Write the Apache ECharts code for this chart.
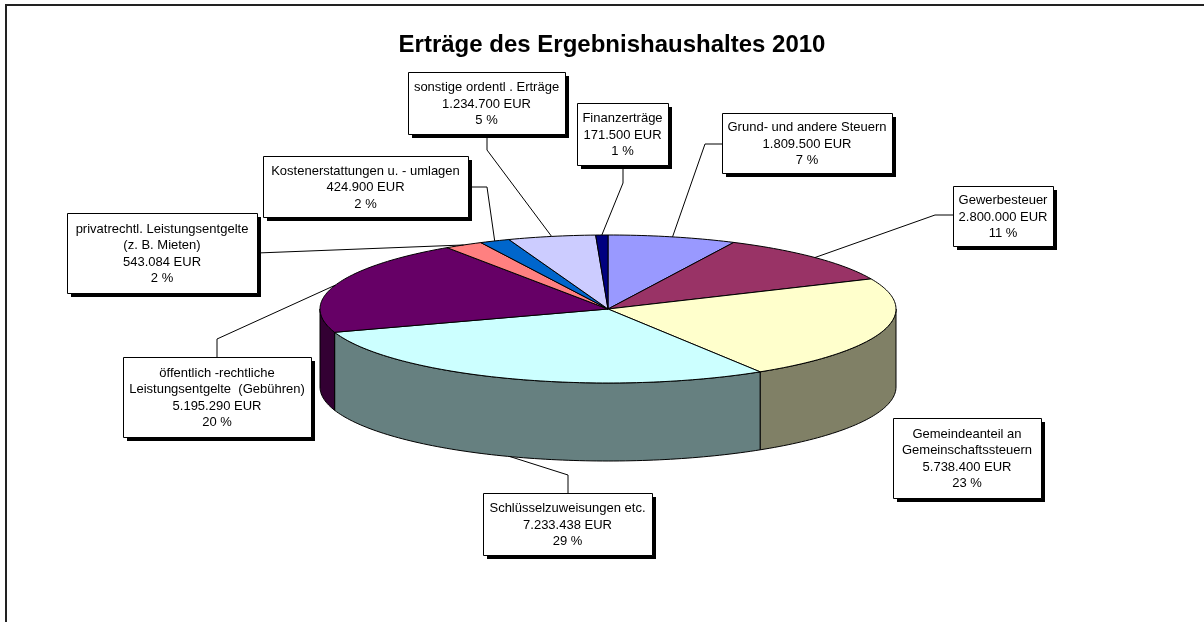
<!DOCTYPE html>
<html>
<head>
<meta charset="utf-8">
<script src="https://cdn.jsdelivr.net/npm/echarts@6/dist/echarts.min.js"></script>
<style>
html, body { margin: 0; padding: 0; background: #fff; }
#main { width: 1204px; height: 622px; }
</style>
</head>
<body>
<div id="main"></div>
<script>
// Werte (Reihenfolge im Uhrzeigersinn ab 12 Uhr)
var names = [
    'Grund- und andere Steuern',
    'Gewerbesteuer',
    'Gemeindeanteil an\nGemeinschaftssteuern',
    'Schlüsselzuweisungen etc.',
    'öffentlich -rechtliche\nLeistungsentgelte  (Gebühren)',
    'privatrechtl. Leistungsentgelte\n(z. B. Mieten)',
    'Kostenerstattungen u. - umlagen',
    'sonstige ordentl . Erträge',
    'Finanzerträge'
];
var values = [1809500, 2800000, 5738400, 7233438, 5195290, 543084, 424900, 1234700, 171500];
var percents = [7, 11, 23, 29, 20, 2, 2, 5, 1];

var topColors  = ['#9999ff', '#993366', '#ffffcc', '#ccffff', '#660066', '#ff8080', '#0066cc', '#ccccff', '#000080'];
var sideColors = ['#4d4d80', '#4d1a33', '#808066', '#668080', '#330033', '#804040', '#003366', '#666680', '#000040'];

// Beschriftungskästen [x, y, b, h] und Knickpunkte der Führungslinien
var boxes = [
    [722, 113, 170, 60],
    [953, 186, 100, 60],
    [893, 418, 148, 80],
    [483, 493, 169, 62],
    [123, 357, 188, 80],
    [67, 213, 190, 80],
    [263, 156, 205, 61],
    [408, 72, 157, 62],
    [577, 103, 91, 62]
];
var elbows = [
    [[722, 144], [705, 144]],
    [[953, 215], [935, 215]],
    null,
    [[568, 493], [568, 475]],
    [[217, 357], [217, 339]],
    [[257, 253]],
    [[468, 187], [487, 187]],
    [[487, 134], [487, 150]],
    [[623, 165], [623, 183]]
];

var cx = 608, cy = 309, rx = 288, ry = 74, depth = 78;

var total = 0;
var starts = [];
values.forEach(function (v) { starts.push(total); total += v; });

function rim(a, dy) {
    return [cx + rx * Math.sin(a), cy - ry * Math.cos(a) + (dy || 0)];
}
function arc(a0, a1, dy) {
    var pts = [];
    var n = Math.max(2, Math.ceil((a1 - a0) / 0.02));
    for (var k = 0; k <= n; k++) pts.push(rim(a0 + (a1 - a0) * k / n, dy));
    return pts;
}
function euro(v) {
    return String(v).replace(/\B(?=(\d{3})+(?!\d))/g, '.') + ' EUR';
}
function angles(api) {
    var s = api.value(1), v = api.value(0);
    return [s / total * 2 * Math.PI, (s + v) / total * 2 * Math.PI];
}

function renderSlice(params, api) {
    var i = api.value(2);
    var a = angles(api);
    var children = [];
    var w0 = Math.max(a[0], Math.PI / 2), w1 = Math.min(a[1], 1.5 * Math.PI);
    if (w1 > w0) {
        var wall = arc(w0, w1, 0).concat(arc(w0, w1, depth).reverse());
        children.push({
            type: 'polygon', shape: { points: wall },
            style: { fill: sideColors[i], stroke: '#000', lineWidth: 1 }
        });
    }
    children.push({
        type: 'polygon', shape: { points: [[cx, cy]].concat(arc(a[0], a[1], 0)) },
        style: { fill: topColors[i], stroke: '#000', lineWidth: 1 }
    });
    return { type: 'group', children: children };
}

function renderLabel(params, api) {
    var i = api.value(2);
    var a = angles(api);
    var mid = (a[0] + a[1]) / 2;
    var front = mid > Math.PI / 2 && mid < 1.5 * Math.PI;
    var b = boxes[i];
    var children = [];
    if (elbows[i]) {
        children.push({
            type: 'polyline', shape: { points: elbows[i].concat([rim(mid, front ? depth : 0)]) },
            style: { stroke: '#000', lineWidth: 1, fill: null }
        });
    }
    children.push({
        type: 'rect', shape: { x: b[0] + 4, y: b[1] + 4, width: b[2], height: b[3] },
        style: { fill: '#000' }
    });
    children.push({
        type: 'rect', shape: { x: b[0] + 0.5, y: b[1] + 0.5, width: b[2], height: b[3] },
        style: { fill: '#fff', stroke: '#000', lineWidth: 1 }
    });
    children.push({
        type: 'text',
        style: {
            text: names[i] + '\n' + euro(values[i]) + '\n' + percents[i] + ' %',
            x: b[0] + b[2] / 2, y: b[1] + b[3] / 2 + 1,
            align: 'center', verticalAlign: 'middle',
            font: '13px "Liberation Sans", Arial, sans-serif',
            lineHeight: 16.5, fill: '#000'
        }
    });
    return { type: 'group', children: children };
}

var seriesData = values.map(function (v, i) { return [v, starts[i], i]; });

var myChart = echarts.init(document.getElementById('main'));
var option = {
    animation: false,
    backgroundColor: '#fff',
    title: {
        text: 'Erträge des Ergebnishaushaltes 2010',
        left: 607, top: 28, textAlign: 'center',
        textStyle: { fontFamily: '"Liberation Sans", Arial, sans-serif', fontSize: 24, fontWeight: 'bold', color: '#000' }
    },
    graphic: [{
        type: 'rect', shape: { x: 6, y: 5, width: 1300, height: 700 },
        style: { fill: null, stroke: '#222', lineWidth: 2 }, silent: true
    }],
    series: [{
        type: 'custom', coordinateSystem: 'none', z: 1,
        renderItem: renderSlice, data: seriesData
    }, {
        type: 'custom', coordinateSystem: 'none', z: 2,
        renderItem: renderLabel, data: seriesData
    }]
};
myChart.setOption(option);
</script>
</body>
</html>
